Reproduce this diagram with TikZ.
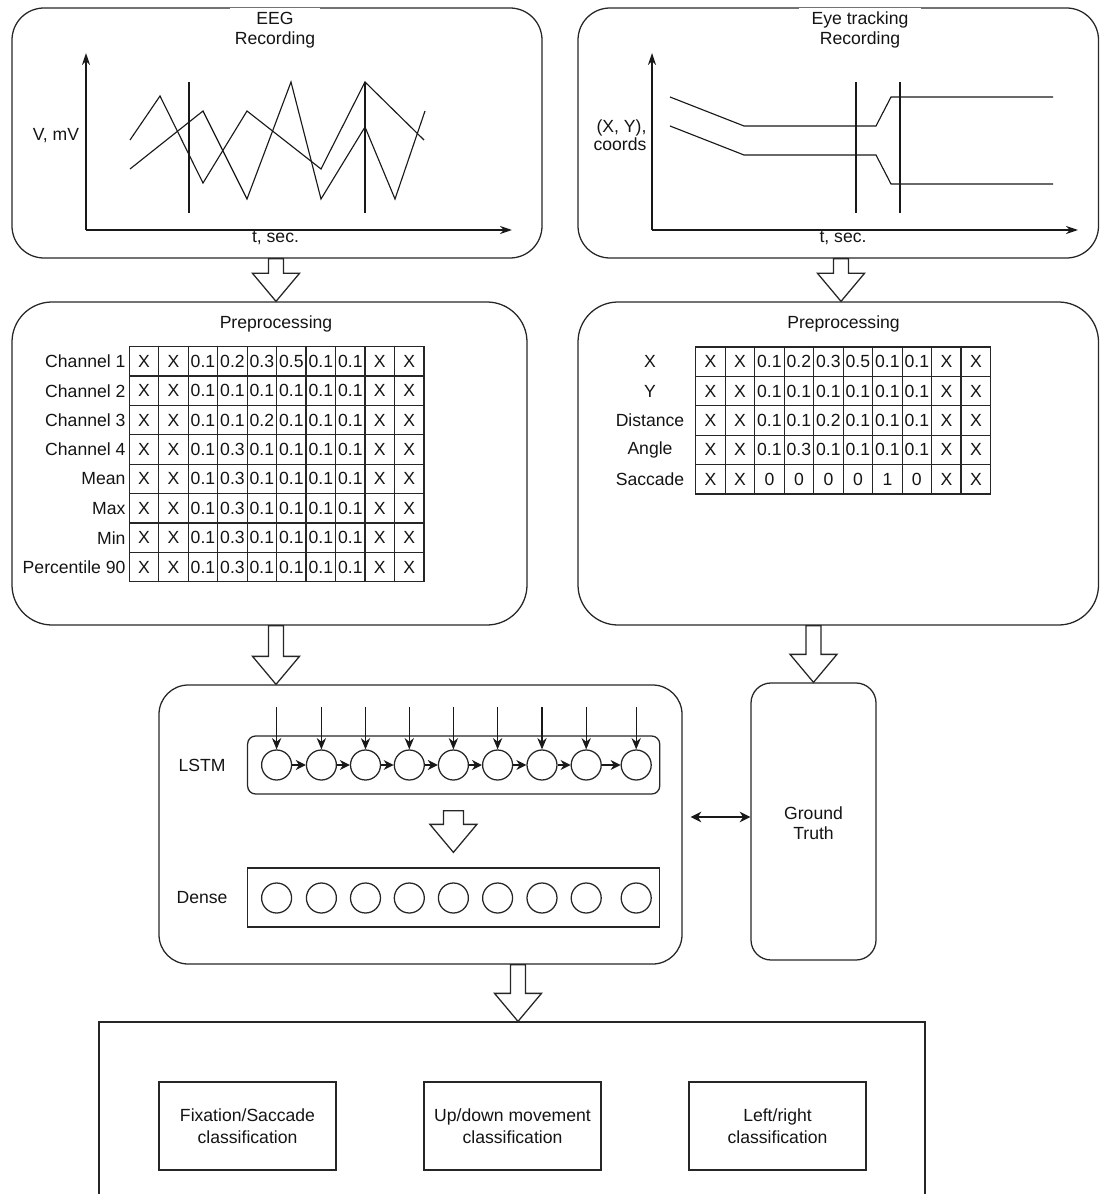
\documentclass[tikz,border=0pt]{standalone}
\usepackage{fontspec}
\setmainfont{Liberation Sans}
\usetikzlibrary{arrows.meta,calc,fit}
\newcommand\hollowarrow[3][5.6pt]{%
  \draw[ln, fill=white] let \p1=#2, \p2=#3 in
   (\x1-#1,\y1) -- (\x1-#1,\y2+21pt) -- (\x1-17.6pt,\y2+21pt) -- (\x1,\y2)
   -- (\x1+17.6pt,\y2+21pt) -- (\x1+#1,\y2+21pt) -- (\x1+#1,\y1) -- cycle;}
\begin{document}
\begin{tikzpicture}[x=0.75pt,y=-0.75pt,
  every node/.style={font=\fontsize{13.2}{15}\selectfont, text=black!92},
  ln/.style={draw=black!85, line width=0.95pt},
  rbox/.style={ln, inner sep=0pt},
  axisline/.style={draw=black!90, line width=1.5pt, -{Stealth[length=9pt,width=6pt]}},
  wave/.style={draw=black!90, line width=0.85pt},
  marker/.style={draw=black!90, line width=2.2pt},
  cell/.style={ln, minimum width=22.1pt, minimum height=22.03pt, inner sep=0pt},
  neuron/.style={circle, ln, minimum size=22.5pt, inner sep=0pt},
  inarrow/.style={draw=black!90, line width=0.85pt, -{Stealth[length=8.5pt,width=7pt]}},
  chain/.style={draw=black!90, line width=0.85pt, -{Stealth[length=7.5pt,width=7.5pt]}},
  clsbox/.style={ln, minimum width=132.75pt, minimum height=66pt, align=center, font=\fontsize{13.2}{16.5}\selectfont},
  titlebox/.style={fill=white, align=center, inner ysep=3pt}
]
\useasboundingbox (0,0) rectangle (1100,1194);

% ---------- main boxes
\node[rbox, rounded corners=24pt, fit={(12,8)(542,258)}] (eeg) {};
\node[rbox, rounded corners=24pt, fit={(578,8)(1098.5,258)}] (eye) {};
\node[rbox, rounded corners=30pt, fit={(12,302)(527,625)}] (pre1) {};
\node[rbox, rounded corners=30pt, fit={(578,302)(1098.5,625)}] (pre2) {};
\node[rbox, rounded corners=22pt, fit={(159,685)(682,964)}] (net) {};
\node[rbox, rounded corners=15pt, fit={(751,683)(876,960)}] (gt) {};
\node[rbox, fit={(99,1022)(925,1215)}] (out) {};

% ---------- titles
\node[titlebox, minimum width=63.75pt] (eegtitle) at (275,30) {EEG\\Recording};
\node[titlebox, minimum width=92pt] (eyetitle) at (860,30) {Eye tracking\\Recording};

% ---------- EEG plot
\draw[axisline] (86,230) -- (86,53);
\draw[axisline] (86,230) -- (512,230);
\draw[marker] (86,127) -- (86,147);
\node[anchor=east, inner sep=0.5pt] (vlab) at (80,136) {V, mV};
\node (tlab1) at (275.5,238) {t, sec.};
\draw[wave] (130,140) -- (160,96) -- (203,183) -- (247,111) -- (321,169) -- (365,82) -- (424,140);
\draw[wave] (130,169) -- (203,111) -- (247,199) -- (291,82) -- (321,199) -- (365,127) -- (395,199) -- (425,111);
\draw[marker] (189,82) -- (189,213);
\draw[marker] (365,82) -- (365,213);

% ---------- Eye plot
\draw[axisline] (652,230) -- (652,53);
\draw[axisline] (652,230) -- (1078,230);
\node[anchor=east, align=right, inner sep=1pt, font=\fontsize{13.2}{11.5}\selectfont] (xylab) at (648,135.5) {(X, Y),\\coords};
\node (tlab2) at (843,238) {t, sec.};
\draw[wave] (670,97) -- (744,126) -- (876,126) -- (891,97) -- (1053,97);
\draw[wave] (670,126) -- (744,155) -- (876,155) -- (891,184) -- (1053,184);
\draw[marker] (856,82) -- (856,213);
\draw[marker] (900,82) -- (900,213);

% ---------- Preprocessing tables
\node (p1title) at (276,324) {Preprocessing};
\node (p2title) at (843.5,324) {Preprocessing};

\foreach \lab/\vals [count=\r] in {
  Channel 1/{X,X,0.1,0.2,0.3,0.5,0.1,0.1,X,X},
  Channel 2/{X,X,0.1,0.1,0.1,0.1,0.1,0.1,X,X},
  Channel 3/{X,X,0.1,0.1,0.2,0.1,0.1,0.1,X,X},
  Channel 4/{X,X,0.1,0.3,0.1,0.1,0.1,0.1,X,X},
  Mean/{X,X,0.1,0.3,0.1,0.1,0.1,0.1,X,X},
  Max/{X,X,0.1,0.3,0.1,0.1,0.1,0.1,X,X},
  Min/{X,X,0.1,0.3,0.1,0.1,0.1,0.1,X,X},
  Percentile 90/{X,X,0.1,0.3,0.1,0.1,0.1,0.1,X,X}} {
  \foreach \v [count=\c] in \vals {
    \node[cell] (L-\r-\c) at ({129.3+29.47*(\c-0.5)},{346.7+29.375*(\r-0.5)}) {\v};
  }
  \node[anchor=east, inner xsep=2.2pt, inner ysep=0pt] (L-\r-lab) at (L-\r-1.west) {\lab};
}

\foreach \lab/\vals [count=\r] in {
  X/{X,X,0.1,0.2,0.3,0.5,0.1,0.1,X,X},
  Y/{X,X,0.1,0.1,0.1,0.1,0.1,0.1,X,X},
  Distance/{X,X,0.1,0.1,0.2,0.1,0.1,0.1,X,X},
  Angle/{X,X,0.1,0.3,0.1,0.1,0.1,0.1,X,X},
  Saccade/{X,X,0,0,0,0,1,0,X,X}} {
  \foreach \v [count=\c] in \vals {
    \node[cell] (R-\r-\c) at ({695.7+29.49*(\c-0.5)},{347+29.4*(\r-0.5)}) {\v};
  }
  \node (R-\r-lab) at (650,{347+29.4*(\r-0.5)}) {\lab};
}

% ---------- network
\node[rbox, rounded corners=6pt, fit={(247.6,736)(659.7,794)}] (lstm) {};
\node[rbox, fit={(247.6,868)(659.7,927)}] (dense) {};
\node (lstmlab) at (202,765) {LSTM};
\node (denselab) at (202,898) {Dense};
\foreach \x [count=\i] in {276.6,321.4,365.5,409.3,453.4,497.6,542,586.2,636.2} {
  \node[neuron] (l\i) at (\x,765) {};
  \node[neuron] (d\i) at (\x,898) {};
  \coordinate (in\i) at (\x,707);
  \draw[inarrow] (in\i) -- (l\i.north);
}
\foreach \i [evaluate=\i as \j using {int(\i+1)}] in {1,...,8} {
  \draw[chain] (l\i) -- (l\j);
}

% ---------- ground truth
\node[align=center] (gtlab) at ($(gt.center)+(0,1.5)$) {Ground\\Truth};
\coordinate (da) at ($(gt.west)+(0,-4.5)$);
\draw[draw=black!90, line width=0.95pt, {Stealth[length=8pt,width=8pt,inset=2.5pt]}-{Stealth[length=8pt,width=8pt,inset=2.5pt]}]
  ($(da -| net.east)+(8,0)$) -- (da);

% ---------- output
\node[clsbox] (c1) at (247.5,1126) {Fixation/Saccade\\classification};
\node[clsbox] (c2) at (512.5,1126) {Up/down movement\\classification};
\node[clsbox] (c3) at (777.5,1126) {Left/right\\classification};

% ---------- hollow block arrows
\hollowarrow{($(eeg.south)+(-1,0)$)}{($(eeg.south |- pre1.north)+(-1,0)$)}
\hollowarrow{($(eye.south)+(2.75,0)$)}{($(eye.south |- pre2.north)+(2.75,0)$)}
\hollowarrow{($(pre1.south)+(6.5,0)$)}{($(pre1.south |- net.north)+(6.5,0)$)}
\hollowarrow{(pre2.south -| gt.north)}{(gt.north)}
\hollowarrow{($(net.south)+(97.5,0)$)}{($(net.south |- out.north)+(97.5,0)$)}
\hollowarrow[7.5pt]{($(l5 |- lstm.south)+(0,16)$)}{($(l5 |- dense.north)+(0,-15)$)}
\end{tikzpicture}
\end{document}
